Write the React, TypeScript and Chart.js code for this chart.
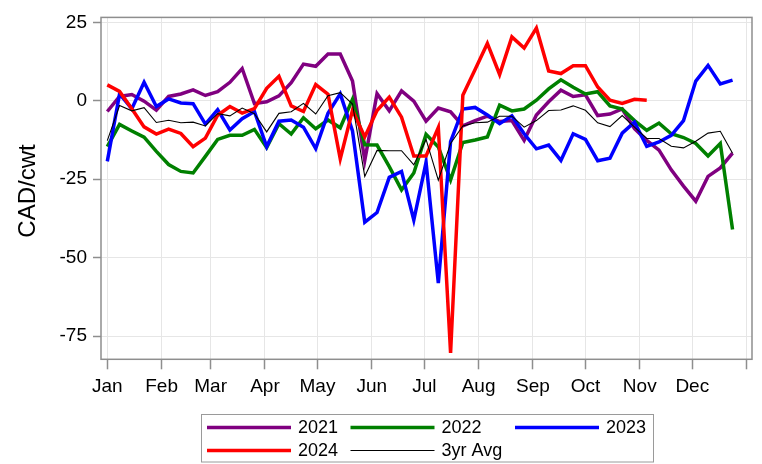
import React, { useEffect, useRef } from "react";
import { Chart, registerables } from "chart.js";

Chart.register(...registerables);

// Week start (day of year) for each weekly observation
const weekStartDay = [
  0, 7, 14, 21, 28, 35, 42, 49, 56, 63, 70, 77, 84, 91, 98, 105, 112, 119, 126,
  133, 140, 147, 154, 161, 168, 175, 182, 189, 196, 203, 210, 217, 224, 231, 238,
  245, 252, 259, 266, 273, 280, 287, 294, 301, 308, 315, 322, 329, 336, 343, 350, 357,
];

// Month start positions (day of year) and their labels
const monthStartDay = [0, 31, 59, 90, 120, 151, 181, 212, 243, 273, 304, 334, 365];
const monthLabels = ["Jan", "Feb", "Mar", "Apr", "May", "Jun", "Jul", "Aug", "Sep", "Oct", "Nov", "Dec", ""];

const yTicks = [25, 0, -25, -50, -75];

const seriesNames = ["2021", "2022", "2023", "2024", "3yr Avg"];

const s2021 = [
  -3.4, 1.4, 2.0, -0.1, -3.0, 1.4, 2.2, 3.5, 1.7, 2.9, 5.9, 10.3, -0.9, -0.3,
  1.6, 5.8, 11.7, 11.0, 14.9, 14.9, 6.3, -19.0, 2.3, -3.2, 3.2, -0.1, -6.5,
  -2.3, -3.5, -8.0, -6.3, -4.9, -6.6, -6.3, -12.6, -4.5, -0.3, 3.4, 1.4, 1.9,
  -4.7, -4.2, -2.6, -8.9, -12.6, -15.7, -22.0, -27.2, -32.0, -24.1, -21.4, -16.7,
];

const s2022 = [
  -14.6, -7.5, -9.6, -11.6, -16.1, -20.3, -22.5, -23.0, -17.7, -12.3, -11.0,
  -11.0, -9.1, -14.9, -7.3, -10.6, -5.4, -8.9, -6.1, -8.6, 0.5, -14.0, -14.1,
  -21.0, -28.4, -23.0, -10.7, -14.7, -25.2, -13.3, -12.5, -11.5, -1.4, -3.2,
  -2.6, 0.2, 3.8, 6.7, 4.3, 2.2, 2.9, -1.6, -2.6, -6.3, -9.4, -7.1, -10.5,
  -11.7, -13.6, -17.6, -13.6, -41.0,
];

const s2023 = [
  -19.3, 2.2, -2.5, 5.9, -1.8, 0.6, -0.7, -0.9, -7.4, -2.8, -9.3, -5.7, -3.4,
  -14.6, -6.5, -6.1, -8.4, -15.2, -4.0, 2.2, -9.6, -38.7, -35.6, -24.4, -22.5,
  -38.0, -19.6, -58.1, -13.0, -2.6, -2.1, -4.5, -7.3, -4.8, -10.5, -15.3,
  -14.1, -19.0, -10.5, -12.3, -19.1, -18.3, -10.3, -6.8, -14.5, -13.1, -11.0,
  -6.3, 6.3, 11.3, 5.4, 6.6,
];

const s2024 = [
  5.1, 3.0, -2.5, -8.3, -10.6, -9.0, -10.4, -14.6, -11.9, -4.6, -1.8, -3.9,
  -2.5, 4.0, 7.8, -1.6, -3.4, 5.2, 2.1, -18.5, -3.0, -11.5, -3.1, 1.2, -5.2,
  -17.6, -17.6, -8.5, -80.4, 1.8, 10.0, 18.3, 8.4, 20.4, 16.8, 23.2, 9.5, 8.7,
  11.2, 11.2, 4.4, 0.2, -0.8, 0.5, 0.2,
];

const sAvg = [
  -12.7, -1.5, -3.2, -2.2, -6.9, -6.2, -7.0, -6.8, -8.0, -4.1, -4.8, -2.3,
  -4.1, -9.9, -4.0, -3.5, -0.8, -4.2, 1.6, 2.6, -1.0, -24.1, -15.8, -15.9,
  -15.9, -20.4, -12.3, -25.3, -13.6, -8.0, -7.0, -6.8, -4.9, -4.9, -8.4, -6.3,
  -3.1, -2.9, -1.6, -3.0, -7.0, -8.2, -4.7, -8.4, -12.0, -12.0, -14.5, -15.0,
  -12.9, -10.3, -9.7, -16.7,
];

const FONT = "'Liberation Sans', Arial, Helvetica, sans-serif";
const AXIS_GREY = "#8e8e8e";
const GRID_GREY = "#e6e6e6";

export default function App() {
  const canvasRef = useRef<HTMLCanvasElement | null>(null);

  useEffect(() => {
    const canvas = canvasRef.current;
    if (!canvas) return;

    const toPoints = (vals: number[]) =>
      vals.map((v, i) => ({ x: weekStartDay[i], y: v }));

    const framePlugin = {
      id: "frame",
      afterDatasetsDraw(chart: any) {
        const { ctx, chartArea } = chart;
        ctx.save();
        ctx.strokeStyle = AXIS_GREY;
        ctx.lineWidth = 1.5;
        ctx.strokeRect(
          chartArea.left,
          chartArea.top,
          chartArea.right - chartArea.left,
          chartArea.bottom - chartArea.top
        );
        ctx.restore();
      },
    };

    const yTitlePlugin = {
      id: "yTitle",
      afterDraw(chart: any) {
        const { ctx } = chart;
        ctx.save();
        ctx.translate(34.5, 191);
        ctx.rotate(-Math.PI / 2);
        ctx.font = `24px ${FONT}`;
        ctx.fillStyle = "#000";
        ctx.textAlign = "center";
        ctx.textBaseline = "alphabetic";
        ctx.fillText("CAD/cwt", 0, 0);
        ctx.restore();
      },
    };

    const legendPlugin = {
      id: "boxLegend",
      afterDraw(chart: any) {
        const { ctx } = chart;
        const box = { x: 201.5, y: 414.5, w: 452, h: 47.5 };
        const colX = [207, 350.5, 515];
        const rowY = [427.5, 450.5];
        const lineLen = 84;
        ctx.save();
        ctx.strokeStyle = "#9a9a9a";
        ctx.lineWidth = 1;
        ctx.strokeRect(box.x, box.y, box.w, box.h);
        ctx.font = `18px ${FONT}`;
        ctx.textBaseline = "middle";
        ctx.textAlign = "left";
        chart.data.datasets.forEach((ds: any, i: number) => {
          const r = Math.floor(i / 3);
          const c = i % 3;
          const x = colX[c];
          const y = rowY[r];
          ctx.strokeStyle = ds.borderColor;
          ctx.lineWidth = ds.borderWidth;
          ctx.beginPath();
          ctx.moveTo(x, y);
          ctx.lineTo(x + lineLen, y);
          ctx.stroke();
          ctx.fillStyle = "#000";
          ctx.fillText(ds.label, x + lineLen + 7, y + 1);
        });
        ctx.restore();
      },
    };

    const chart = new Chart(canvas, {
      type: "line",
      data: {
        datasets: [
          { label: seriesNames[0], data: toPoints(s2021), borderColor: "#800080", borderWidth: 3.5, order: 5 },
          { label: seriesNames[1], data: toPoints(s2022), borderColor: "#008000", borderWidth: 3.5, order: 4 },
          { label: seriesNames[2], data: toPoints(s2023), borderColor: "#0000ff", borderWidth: 3.5, order: 3 },
          { label: seriesNames[3], data: toPoints(s2024), borderColor: "#ff0000", borderWidth: 3.5, order: 2 },
          { label: seriesNames[4], data: toPoints(sAvg), borderColor: "#000000", borderWidth: 1.1, order: 1 },
        ].map((d) => ({
          ...d,
          fill: false,
          tension: 0,
          pointRadius: 0,
          pointHoverRadius: 0,
          borderJoinStyle: "miter" as const,
          backgroundColor: d.borderColor,
        })),
      },
      options: {
        responsive: false,
        animation: false,
        devicePixelRatio: 1,
        layout: { padding: { top: 12, right: 10, left: 0, bottom: 0 } },
        plugins: {
          legend: { display: false },
          tooltip: { enabled: false },
          title: { display: false },
        },
        scales: {
          x: {
            type: "linear",
            min: -3.6,
            max: 368.1,
            afterBuildTicks: (scale: any) => {
              scale.ticks = monthStartDay.map((v) => ({ value: v }));
            },
            afterFit: (scale: any) => {
              scale.height = 104.7;
            },
            ticks: {
              autoSkip: false,
              maxRotation: 0,
              minRotation: 0,
              padding: 6,
              color: "#000",
              font: { family: FONT, size: 19 },
              callback: (_v: any, index: number) => monthLabels[index],
            },
            grid: {
              color: GRID_GREY,
              lineWidth: 1,
              tickColor: AXIS_GREY,
              tickLength: 10,
              tickWidth: 1.5,
            },
            border: { display: false },
          },
          y: {
            type: "linear",
            min: -82.4,
            max: 26.6,
            afterBuildTicks: (scale: any) => {
              scale.ticks = yTicks.map((v) => ({ value: v }));
            },
            afterFit: (scale: any) => {
              scale.width = 101;
            },
            ticks: {
              padding: 6,
              color: "#000",
              font: { family: FONT, size: 19 },
              callback: (v: any) => String(v),
            },
            grid: {
              color: GRID_GREY,
              lineWidth: 1,
              tickColor: AXIS_GREY,
              tickLength: 8,
              tickWidth: 1.5,
            },
            border: { display: false },
          },
        },
      },
      plugins: [framePlugin, yTitlePlugin, legendPlugin],
    } as any);

    return () => {
      chart.destroy();
    };
  }, []);

  return (
    <div style={{ position: "absolute", left: 0, top: 0, width: 762, height: 464, background: "#fff" }}>
      <canvas ref={canvasRef} width={762} height={464} style={{ width: 762, height: 464, display: "block" }} />
    </div>
  );
}
